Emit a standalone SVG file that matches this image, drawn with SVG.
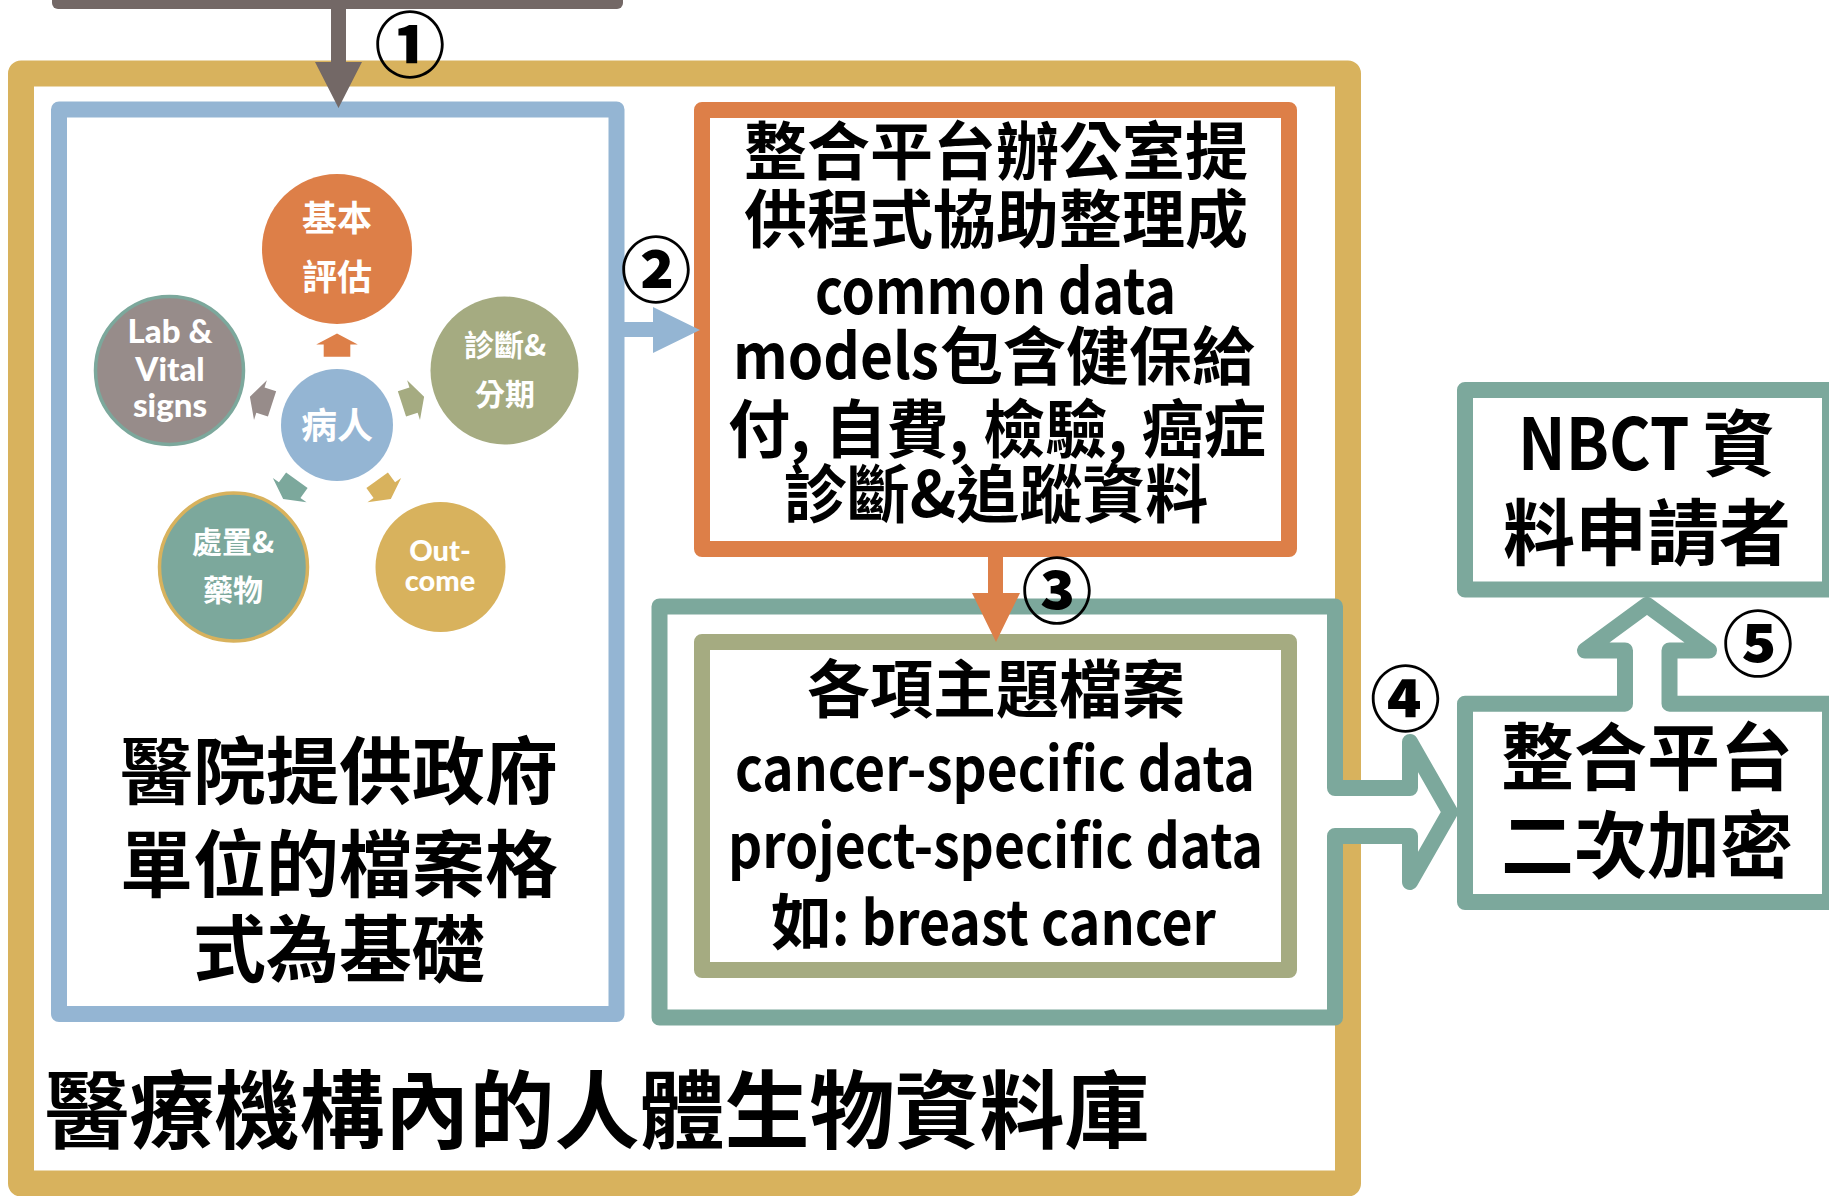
<svg xmlns="http://www.w3.org/2000/svg" width="1829" height="1196" viewBox="0 0 1829 1196">
<style>
.bx{fill:#fff;stroke-linejoin:round}
.k{font-family:"Noto Sans CJK TC","Noto Sans CJK SC",sans-serif;font-weight:700;fill:#000;text-anchor:middle}
.s{font-family:"Noto Sans CJK TC","Noto Sans CJK SC",sans-serif;font-weight:700;fill:#000;text-anchor:start}
.w{font-family:"Noto Sans CJK TC","Noto Sans CJK SC",sans-serif;font-weight:700;fill:#fff;text-anchor:middle}
.lt{font-family:Lato,"Noto Sans",sans-serif;font-weight:900;fill:#fff;text-anchor:middle}
.num{font-family:"Noto Sans CJK TC","Noto Sans CJK SC",sans-serif;font-weight:900;fill:#000;text-anchor:middle;dominant-baseline:central;font-size:71px}
</style>
<defs>
<path id="ra" d="M0,-11.6 L20.8,-0.5 L13.3,-0.5 L13.3,11.7 L-13.3,11.7 L-13.3,-0.5 L-20.8,-0.5 Z"/>
</defs>

<g id="source-bar">
<rect x="52" y="-30" width="571" height="39" rx="6" fill="#736866"/>
</g>

<g id="institution-frame">
<rect class="bx" x="21" y="73.5" width="1327" height="1110" stroke="#d8b25d" stroke-width="26"/>
<text class="k" x="597" y="1142" font-size="85">醫療機構內的人體生物資料庫</text>
</g>

<g id="hospital-box">
<rect class="bx" x="59" y="109.5" width="557.5" height="904.5" stroke="#94b5d3" stroke-width="16"/>
<text class="k" font-size="73"><tspan x="339" y="798">醫院提供政府</tspan><tspan x="339" y="891">單位的檔案格</tspan><tspan x="339" y="976">式為基礎</tspan></text>
</g>

<g id="radial">
<g id="radial-arrows">
<use href="#ra" fill="#dd7f48" transform="translate(337,425) rotate(0) translate(0,-80)"/>
<use href="#ra" fill="#a5ab81" transform="translate(337,425) rotate(72) translate(0,-80)"/>
<use href="#ra" fill="#d8b25d" transform="translate(337,425) rotate(144) translate(0,-80)"/>
<use href="#ra" fill="#7ca89c" transform="translate(337,425) rotate(216) translate(0,-80)"/>
<use href="#ra" fill="#978c8a" transform="translate(337,425) rotate(288) translate(0,-80)"/>
</g>
<g id="patient">
<circle cx="337" cy="425" r="56" fill="#94b5d3"/>
<text class="w" x="337" y="438.7" font-size="36">病人</text>
</g>
<g id="basic-assessment">
<circle cx="337" cy="249" r="75" fill="#dd7f48"/>
<text class="w" font-size="35"><tspan x="337" y="231.3">基本</tspan><tspan x="337" y="290.3">評估</tspan></text>
</g>
<g id="diagnosis-staging">
<circle cx="504.5" cy="370.5" r="74" fill="#a5ab81"/>
<text class="w" font-size="30"><tspan x="505" y="356">診斷&amp;</tspan><tspan x="505" y="405.4">分期</tspan></text>
</g>
<g id="outcome">
<circle cx="440.5" cy="567" r="65" fill="#d8b25d"/>
<text class="lt" font-size="29"><tspan x="440" y="560.7">Out-</tspan><tspan x="440" y="591.3">come</tspan></text>
</g>
<g id="treatment-drugs">
<circle cx="233.5" cy="567" r="74" fill="#7ca89c" stroke="#d8b25d" stroke-width="3.5"/>
<text class="w" font-size="30"><tspan x="233" y="553">處置&amp;</tspan><tspan x="233" y="600.8">藥物</tspan></text>
</g>
<g id="lab-vital">
<circle cx="169.5" cy="370.5" r="74" fill="#978c8a" stroke="#7ca89c" stroke-width="3.5"/>
<text class="lt" font-size="33"><tspan x="170" y="343.4">Lab &amp;</tspan><tspan x="170" y="381">Vital</tspan><tspan x="170" y="417">signs</tspan></text>
</g>
</g>

<g id="cdm-box">
<rect class="bx" x="702" y="110" width="587" height="439" stroke="#dd7f48" stroke-width="16"/>
<text class="k" font-size="63"><tspan x="996" y="174">整合平台辦公室提</tspan><tspan x="996" y="242">供程式協助整理成</tspan></text>
<text class="s" font-size="63"><tspan x="815" y="314" textLength="361" lengthAdjust="spacingAndGlyphs">common data</tspan></text>
<text class="s" font-size="63"><tspan x="733" y="379" textLength="206" lengthAdjust="spacingAndGlyphs">models</tspan><tspan x="940" y="379">包含健保給</tspan></text>
<text class="s" font-size="63"><tspan x="728" y="452" textLength="538" lengthAdjust="spacingAndGlyphs">付, 自費, 檢驗, 癌症</tspan></text>
<text class="k" font-size="63"><tspan x="996" y="517">診斷&amp;追蹤資料</tspan></text>
</g>

<g id="topic-container">
<path class="bx" d="M659.5,606.5 H1335 V788 H1410 V742 L1450,812 L1410,882 V836 H1335 V1017.5 H659.5 Z" stroke="#7ca89c" stroke-width="16"/>
</g>

<g id="topic-files">
<rect class="bx" x="702" y="642" width="587" height="328" stroke="#a5ab81" stroke-width="16"/>
<text class="k" font-size="63"><tspan x="996" y="712">各項主題檔案</tspan></text>
<text class="s" font-size="61"><tspan x="735" y="791" textLength="520" lengthAdjust="spacingAndGlyphs">cancer-specific data</tspan></text>
<text class="s" font-size="61"><tspan x="728" y="868" textLength="535" lengthAdjust="spacingAndGlyphs">project-specific data</tspan></text>
<text class="s" font-size="61"><tspan x="771" y="945">如</tspan><tspan x="832" y="945" textLength="384" lengthAdjust="spacingAndGlyphs">: breast cancer</tspan></text>
</g>

<g id="nbct-applicant">
<rect class="bx" x="1465" y="390" width="365" height="199.5" stroke="#7ca89c" stroke-width="16"/>
<text class="s" font-size="72"><tspan x="1518" y="470" textLength="186" lengthAdjust="spacingAndGlyphs">NBCT </tspan><tspan x="1703" y="470">資</tspan></text>
<text class="k" font-size="72"><tspan x="1647" y="559">料申請者</tspan></text>
</g>

<g id="platform-encrypt">
<path class="bx" d="M1830,703.7 H1669.5 V650.5 H1709 L1647,605 L1585,650.5 H1625 V703.7 H1465 V902 H1830 Z" stroke="#7ca89c" stroke-width="16"/>
<text class="k" font-size="73"><tspan x="1647" y="784">整合平台</tspan><tspan x="1647" y="872">二次加密</tspan></text>
</g>

<g id="connectors">
<path d="M331,9 H346 V62 H362 L338.5,108 L315,62 H331 Z" fill="#736866"/>
<path d="M624,322 H653 V307 L700,330 L653,353 V337 H624 Z" fill="#94b5d3"/>
<path d="M988,557 H1003 V593 H1020 L996,642 L972,593 H988 Z" fill="#dd7f48"/>
<text class="num" x="410" y="40">①</text>
<text class="num" x="656" y="265">②</text>
<text class="num" x="1057" y="586">③</text>
<text class="num" x="1405.5" y="694">④</text>
<text class="num" x="1758" y="639">⑤</text>
</g>
</svg>
